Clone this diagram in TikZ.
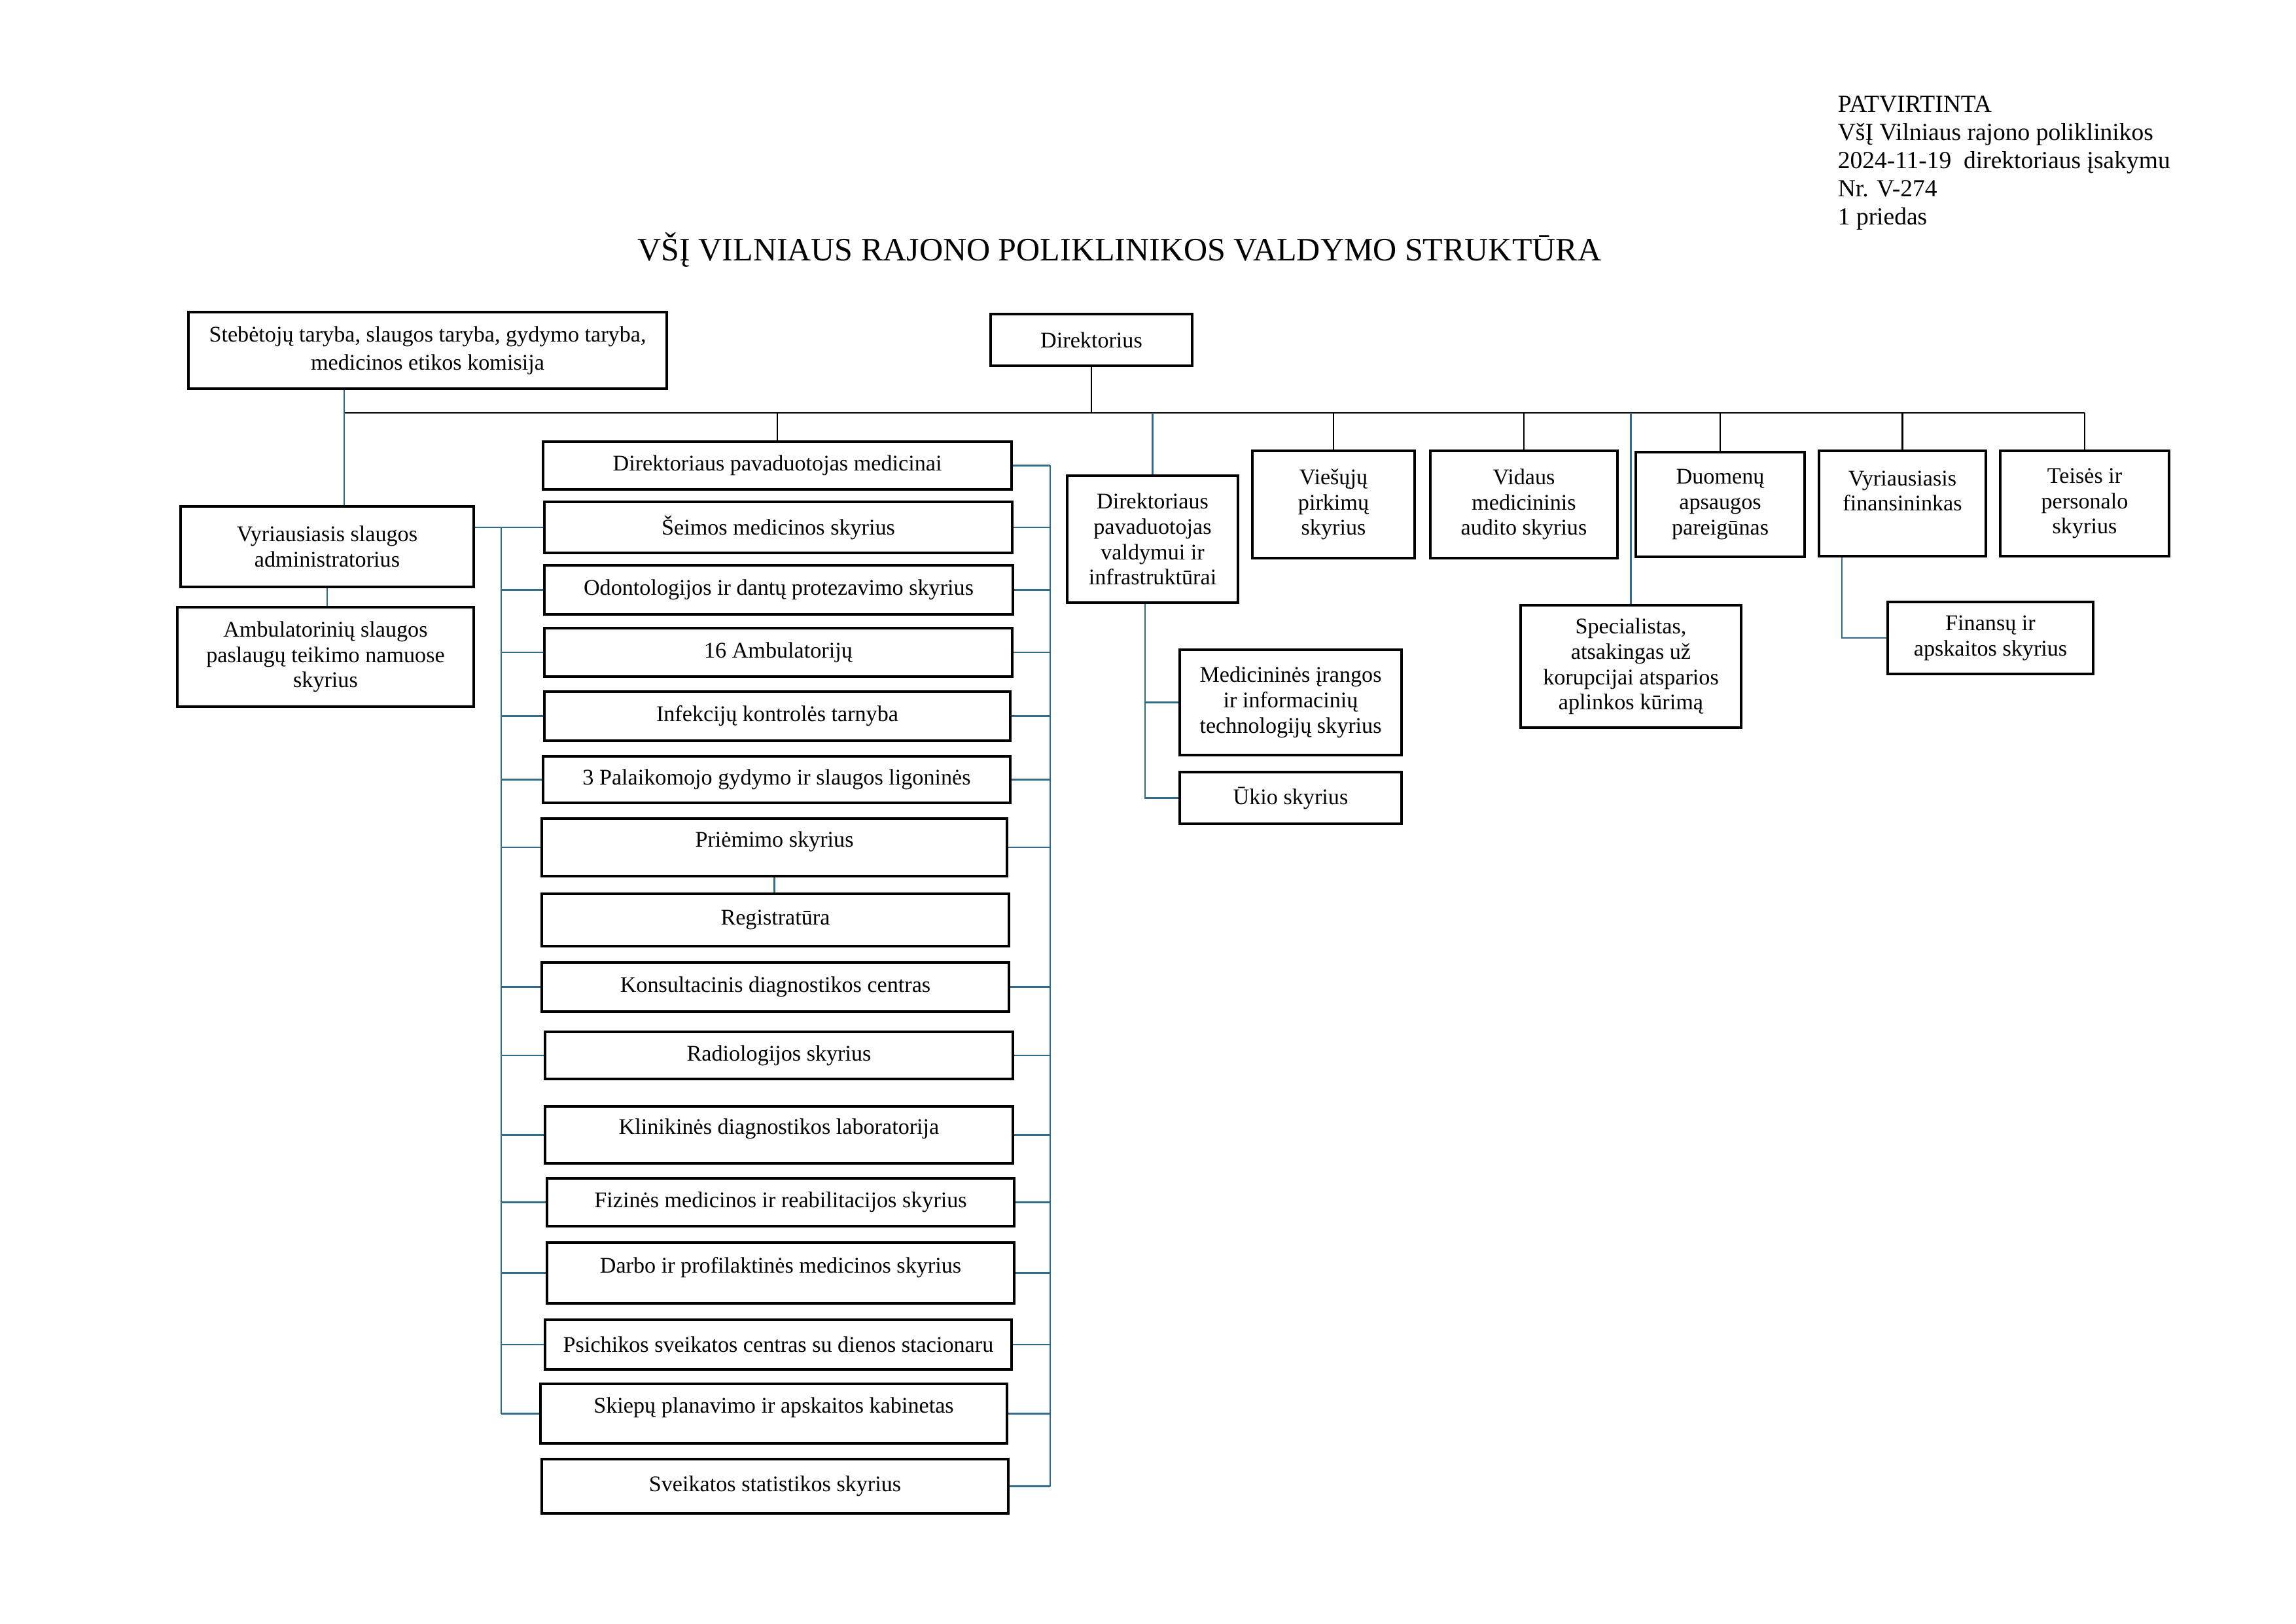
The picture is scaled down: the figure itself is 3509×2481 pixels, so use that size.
\documentclass[tikz,border=0pt]{standalone}
\usepackage{fontspec}
\setmainfont{Liberation Serif}
\definecolor{linkblue}{RGB}{49,108,138}

\begin{document}
\begin{tikzpicture}
	[x=0.24pt,y=-0.24pt,
	orgbox/.style={draw,line width=0.75pt,inner sep=0pt,align=center,font=\fontsize{8.2}{9.3}\selectfont},
	sz/.style 2 args={minimum width=#1*0.24pt,minimum height=#2*0.24pt},
	raised/.style={text depth=6pt},
	bluelink/.style={draw=linkblue,line width=0.5pt},
	blacklink/.style={draw=black,line width=0.55pt}]
	\useasboundingbox (0,0) rectangle (3509,2481);

	% heading
	\node[anchor=base west,align=left,inner sep=0pt,font=\fontsize{9}{10.3}\selectfont] (approval) at (2808,343)
		{PATVIRTINTA\\VšĮ Vilniaus rajono poliklinikos\\2024-11-19\ \ direktoriaus įsakymu\\Nr. V-274\\1 priedas};
	\node[anchor=base,inner sep=0pt,font=\fontsize{12}{14}\selectfont] (title) at (1711,398)
		{VŠĮ VILNIAUS RAJONO POLIKLINIKOS VALDYMO STRUKTŪRA};

	% top level
	\node[orgbox,sz={731}{117},font=\fontsize{8.2}{10.3}\selectfont] (board) at (653.5,535.5)
		{Stebėtojų taryba, slaugos taryba, gydymo taryba,\\medicinos etikos komisija};
	\node[orgbox,sz={308}{79}] (director) at (1668,519.5) {Direktorius};
	\coordinate (bus) at (526,631);

	% nursing
	\node[orgbox,sz={448}{123}] (nursehead) at (500,835.5) {Vyriausiasis slaugos\\administratorius};
	\node[orgbox,sz={453}{152}] (homecare) at (497.5,1004) {Ambulatorinių slaugos\\paslaugų teikimo namuose\\skyrius};

	% medical column
	\node[orgbox,sz={716}{73}] (meddep) at (1188,711.5) {Direktoriaus pavaduotojas medicinai};
	\node[orgbox,sz={715}{78}] (family) at (1189.5,806) {Šeimos medicinos skyrius};
	\node[orgbox,sz={716}{75}] (dental) at (1190,901.5) {Odontologijos ir dantų protezavimo skyrius};
	\node[orgbox,sz={715}{74}] (clinics) at (1189.5,997) {16 Ambulatorijų};
	\node[orgbox,sz={712}{75}] (infect) at (1188,1094.5) {Infekcijų kontrolės tarnyba};
	\node[orgbox,sz={714}{71}] (hospitals) at (1187,1191.5) {3 Palaikomojo gydymo ir slaugos ligoninės};
	\node[orgbox,raised,sz={711}{88}] (admission) at (1183.5,1295) {Priėmimo skyrius};
	\node[orgbox,sz={714}{80}] (registry) at (1185,1406) {Registratūra};
	\node[orgbox,sz={714}{75}] (consult) at (1185,1508.5) {Konsultacinis diagnostikos centras};
	\node[orgbox,sz={715}{72}] (radiology) at (1190.5,1613) {Radiologijos skyrius};
	\node[orgbox,raised,sz={715}{87}] (lab) at (1190.5,1734.5) {Klinikinės diagnostikos laboratorija};
	\node[orgbox,sz={714}{73}] (rehab) at (1193,1837.5) {Fizinės medicinos ir reabilitacijos skyrius};
	\node[orgbox,raised,sz={714}{93}] (occup) at (1193,1945.5) {Darbo ir profilaktinės medicinos skyrius};
	\node[orgbox,sz={713}{76}] (mental) at (1189.5,2055) {Psichikos sveikatos centras su dienos stacionaru};
	\node[orgbox,raised,sz={713}{91}] (vaccine) at (1182.5,2160.5) {Skiepų planavimo ir apskaitos kabinetas};
	\node[orgbox,sz={713}{83}] (stats) at (1184.5,2271.5) {Sveikatos statistikos skyrius};
	\coordinate (lbus) at (766,806);
	\coordinate (rbus) at (1605,711);

	% management branch
	\node[orgbox,sz={261}{194}] (infra) at (1761.5,824) {Direktoriaus\\pavaduotojas\\valdymui ir\\infrastruktūrai};
	\node[orgbox,sz={339}{161}] (itdep) at (1972.5,1073.5) {Medicininės įrangos\\ir informacinių\\technologijų skyrius};
	\node[orgbox,sz={339}{79}] (estate) at (1972.5,1219.5) {Ūkio skyrius};
	\coordinate (vbus) at (1750,0);

	% staff units
	\node[orgbox,sz={248}{164}] (procure) at (2038,771) {Viešųjų\\pirkimų\\skyrius};
	\node[orgbox,sz={286}{164}] (audit) at (2329,771) {Vidaus\\medicininis\\audito skyrius};
	\node[orgbox,sz={258}{160}] (dataprot) at (2629,771) {Duomenų\\apsaugos\\pareigūnas};
	\node[orgbox,sz={255}{161}] (cfo) at (2907.5,769.5) {Vyriausiasis\\finansininkas\\~};
	\node[orgbox,sz={258}{161}] (legal) at (3186,769.5) {Teisės ir\\personalo\\skyrius};
	\node[orgbox,sz={337}{187}] (anticorr) at (2492.5,1018.5) {Specialistas,\\atsakingas už\\korupcijai atsparios\\aplinkos kūrimą};
	\node[orgbox,sz={314}{110}] (finance) at (3042,975) {Finansų ir\\apskaitos skyrius};
	\coordinate (fbus) at (2815,0);

	% black lines from the director
	\draw[blacklink] (director.south) -- (director.south |- bus);
	\draw[blacklink] (bus) -- (legal.north |- bus);
	\foreach \unit in {meddep,procure,audit,dataprot,cfo,legal}
		\draw[blacklink] (\unit.north |- bus) -- (\unit.north);

	% blue lines
	\draw[bluelink] (bus |- board.south) -- (bus |- nursehead.north);
	\draw[bluelink] (nursehead.south) -- (nursehead.south |- homecare.north);
	\draw[bluelink] (nursehead.east |- family.west) -- (family.west);
	\draw[bluelink] (lbus) -- (lbus |- vaccine.west);
	\foreach \unit in {dental,clinics,infect,hospitals,admission,consult,radiology,lab,rehab,occup,mental,vaccine}
		\draw[bluelink] (\unit.west -| lbus) -- (\unit.west);
	\draw[bluelink] (rbus) -- (rbus |- stats.east);
	\foreach \unit in {meddep,family,dental,clinics,infect,hospitals,admission,consult,radiology,lab,rehab,occup,mental,vaccine,stats}
		\draw[bluelink] (\unit.east) -- (\unit.east -| rbus);
	\draw[bluelink] (admission.south) -- (admission.south |- registry.north);
	\draw[bluelink] (infra.north |- bus) -- (infra.north);
	\draw[bluelink] (vbus |- infra.south) -- (vbus |- estate.west) -- (estate.west);
	\draw[bluelink] (vbus |- itdep.west) -- (itdep.west);
	\draw[bluelink] (anticorr.north |- bus) -- (anticorr.north);
	\draw[bluelink] (fbus |- cfo.south) -- (fbus |- finance.west) -- (finance.west);
\end{tikzpicture}
\end{document}
